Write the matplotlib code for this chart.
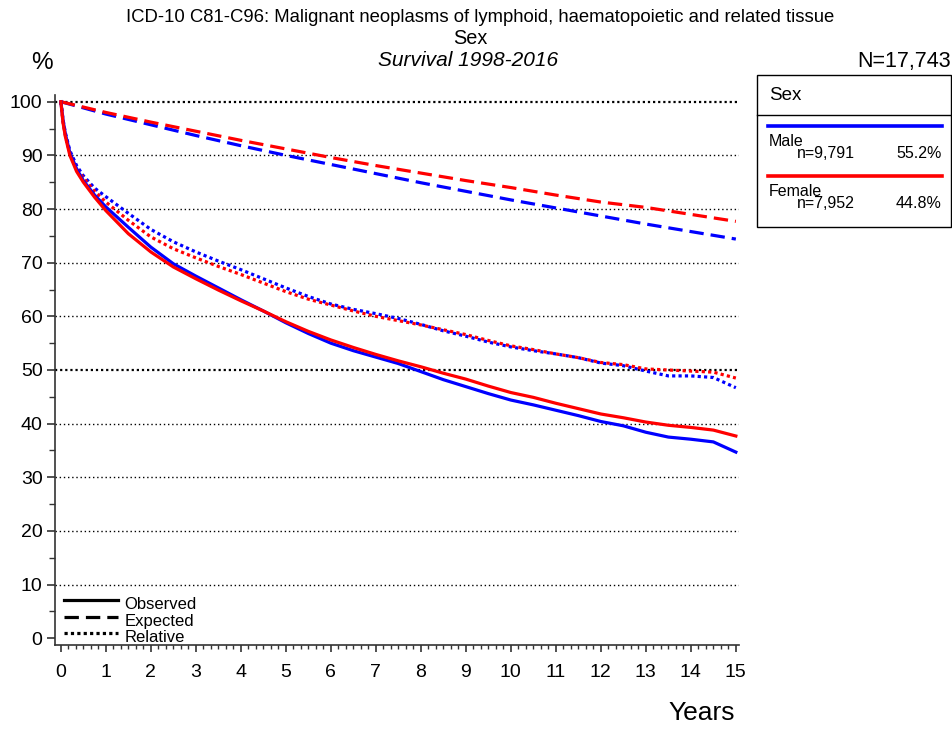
import matplotlib
matplotlib.use("Agg")
import matplotlib.pyplot as plt
from matplotlib.ticker import MultipleLocator
from matplotlib.patches import Rectangle
from matplotlib.lines import Line2D

plt.rcParams['font.family'] = ['Liberation Sans', 'DejaVu Sans']

# ---- data ----
years = [0, 0.05, 0.1, 0.2, 0.35, 0.5, 0.75, 1, 1.5, 2, 2.5, 3, 3.5, 4, 4.5, 5, 5.5,
         6, 6.5, 7, 7.5, 8, 8.5, 9, 9.5, 10, 10.5, 11, 11.5, 12, 12.5, 13, 13.5,
         14, 14.5, 15]
male_observed = [100, 96.5, 94.0, 90.5, 87.5, 85.3, 82.6, 80.4, 76.6, 72.9, 69.8, 67.5,
                 65.3, 63.1, 61.0, 58.8, 56.8, 55.0, 53.6, 52.4, 51.2, 49.7, 48.2, 46.9,
                 45.6, 44.4, 43.5, 42.5, 41.5, 40.4, 39.6, 38.4, 37.5, 37.1, 36.6, 34.7]
female_observed = [100, 96.0, 93.5, 90.0, 87.0, 85.0, 82.2, 79.7, 75.4, 72.0, 69.2, 67.0,
                   64.9, 62.9, 61.0, 59.0, 57.2, 55.6, 54.2, 52.9, 51.7, 50.6, 49.4, 48.3,
                   47.0, 45.8, 44.9, 43.8, 42.8, 41.8, 41.1, 40.3, 39.7, 39.3, 38.8, 37.7]
male_relative = [100, 96.6, 94.2, 90.9, 88.1, 86.2, 83.9, 82.3, 79.2, 76.2, 73.9, 72.0,
                 70.3, 68.7, 67.0, 65.3, 63.7, 62.3, 61.3, 60.5, 59.6, 58.5, 57.3, 56.3,
                 55.2, 54.3, 53.6, 53.0, 52.3, 51.3, 50.8, 49.8, 48.9, 48.9, 48.6, 46.7]
female_relative = [100, 96.1, 93.7, 90.4, 87.5, 85.8, 83.3, 81.3, 77.9, 74.8, 72.6, 70.9,
                   69.3, 67.8, 66.2, 64.6, 63.2, 62.1, 61.0, 60.0, 59.2, 58.4, 57.5, 56.6,
                   55.5, 54.5, 53.8, 53.0, 52.3, 51.4, 51.0, 50.2, 50.0, 49.8, 49.6, 48.5]

exp_years = [0, 1, 2, 3, 4, 5, 6, 7, 8, 9, 10, 11, 12, 13, 14, 15]
male_expected = [100, 97.7, 95.7, 93.7, 91.8, 90.0, 88.3, 86.6, 84.9, 83.3, 81.7, 80.2,
                 78.7, 77.2, 75.8, 74.4]
female_expected = [100, 98.0, 96.2, 94.5, 92.8, 91.2, 89.6, 88.1, 86.7, 85.3, 84.0, 82.6,
                   81.3, 80.3, 79.0, 77.7]

groups = ['Male', 'Female']
group_n = ['n=9,791', 'n=7,952']
group_pct = ['55.2%', '44.8%']
colors = ['#0000FF', '#FF0000']

# ---- figure ----
W, H = 953, 729
fig = plt.figure(figsize=(W / 100, H / 100), dpi=100)
ax = fig.add_axes([55 / W, (H - 645) / H, 684 / W, 550 / H])
ax.set_xlim(-0.13, 15.07)
ax.set_ylim(-1.25, 101.25)

for yv in range(10, 101, 10):
    bold = yv in (50, 100)
    ax.axhline(yv, color='black', linestyle=(0, (1, 1.3)) if bold else (0, (1, 2)),
               linewidth=1.6 if bold else 1.0, zorder=1)

dotted = (0, (1, 1))
dashed = (0, (4.5, 2.2))
series = [
    (exp_years, male_expected, colors[0], dashed),
    (exp_years, female_expected, colors[1], dashed),
    (years, male_relative, colors[0], dotted),
    (years, female_relative, colors[1], dotted),
    (years, male_observed, colors[0], '-'),
    (years, female_observed, colors[1], '-'),
]
for xs, ys, c, ls in series:
    ax.plot(xs, ys, color=c, linestyle=ls, linewidth=2.3, zorder=3)

for s in ['top', 'right']:
    ax.spines[s].set_visible(False)
for s in ['left', 'bottom']:
    ax.spines[s].set_color('#333333')
    ax.spines[s].set_linewidth(1.2)

ax.xaxis.set_major_locator(MultipleLocator(1))
ax.xaxis.set_minor_locator(MultipleLocator(1 / 6))
ax.yaxis.set_major_locator(MultipleLocator(10))
ax.yaxis.set_minor_locator(MultipleLocator(5))
ax.tick_params(axis='x', which='major', length=5, width=1.2, pad=9, labelsize=14, color='#333333')
ax.tick_params(axis='x', which='minor', length=3, width=1.0, color='#333333')
ax.tick_params(axis='y', which='major', length=6, width=1.2, pad=3, labelsize=14, color='#333333')
ax.tick_params(axis='y', which='minor', length=4, width=1.0, color='#333333')

# in-plot line-style legend
lx0, lx1 = 0.07, 1.27
for yv, ls, lab in [(7.2, '-', 'Observed'), (4.0, dashed, 'Expected'), (1.0, dotted, 'Relative')]:
    ax.plot([lx0, lx1], [yv, yv], color='black', linestyle=ls, linewidth=2.3, zorder=4)
    ax.text(1.42, yv - 0.9, lab, fontsize=12, va='center', ha='left', zorder=4)

# titles
fig.text(480 / W, 1 - 18 / H, 'ICD-10 C81-C96: Malignant neoplasms of lymphoid, haematopoietic and related tissue',
         ha='center', va='center', fontsize=13.3)
fig.text(470 / W, 1 - 38 / H, 'Sex', ha='center', va='center', fontsize=14.3)
fig.text(468 / W, 1 - 60 / H, 'Survival 1998-2016', ha='center', va='center', fontsize=15,
         style='italic')
fig.text(42 / W, 1 - 63 / H, '%', ha='center', va='center', fontsize=17.5)
fig.text(951 / W, 1 - 61 / H, 'N=17,743', ha='right', va='center', fontsize=15.5)
fig.text(735 / W, 1 - 713 / H, 'Years', ha='right', va='center', fontsize=19)

# right legend box
bx0, by0, bx1, by1 = 757, 75, 951, 227
fig.patches.append(Rectangle((bx0 / W, 1 - by1 / H), (bx1 - bx0) / W, (by1 - by0) / H,
                             transform=fig.transFigure, fill=False, edgecolor='black',
                             linewidth=1.0))
fig.lines.append(Line2D([bx0 / W, bx1 / W], [1 - 115 / H, 1 - 115 / H],
                        transform=fig.transFigure, color='black', linewidth=1.0))
fig.text(769 / W, 1 - 96 / H, 'Sex', ha='left', va='center', fontsize=13.5)
for i, (g, n, p, c) in enumerate(zip(groups, group_n, group_pct, colors)):
    yl = 126 + 50 * i
    fig.lines.append(Line2D([768 / W, 942 / W], [1 - yl / H, 1 - yl / H],
                            transform=fig.transFigure, color=c, linewidth=2.6))
    fig.text(769 / W, 1 - (yl + 15) / H, g, ha='left', va='center', fontsize=11.5)
    fig.text(797 / W, 1 - (yl + 28) / H, n, ha='left', va='center', fontsize=11.5)
    fig.text(942 / W, 1 - (yl + 28) / H, p, ha='right', va='center', fontsize=11.5)

fig.savefig('out.png', dpi=100)
